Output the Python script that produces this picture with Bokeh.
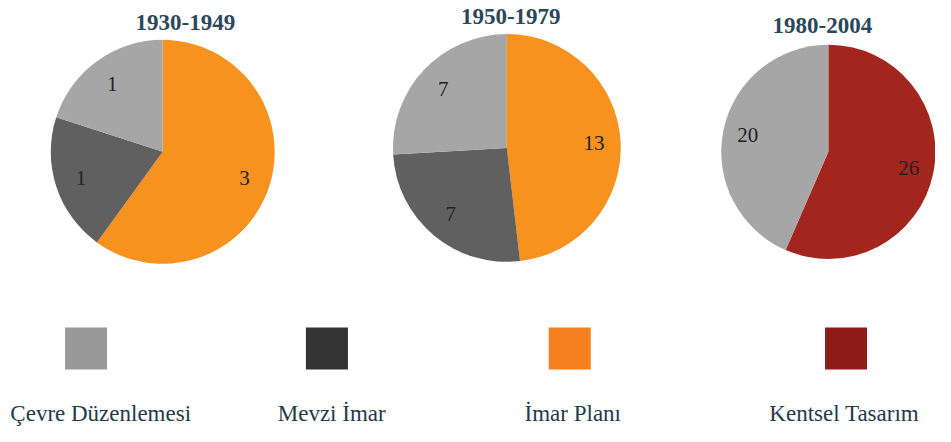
import math
from bokeh.plotting import figure
from bokeh.models import Range1d, ColumnDataSource
from bokeh.core.properties import value
from bokeh.embed import file_html
from bokeh.resources import INLINE

# ---------------- data ----------------
periods = ["1930-1949", "1950-1979", "1980-2004"]

# slices listed clockwise from 12 o'clock
pie1_cats = ["İmar Planı", "Mevzi İmar", "Çevre Düzenlemesi"]
pie1_vals = [3, 1, 1]
pie2_cats = ["İmar Planı", "Mevzi İmar", "Çevre Düzenlemesi"]
pie2_vals = [13, 7, 7]
pie3_cats = ["Kentsel Tasarım", "Çevre Düzenlemesi"]
pie3_vals = [26, 20]

legend_cats = ["Çevre Düzenlemesi", "Mevzi İmar", "İmar Planı", "Kentsel Tasarım"]

pie_colors = {
    "Çevre Düzenlemesi": "#a6a6a6",
    "Mevzi İmar": "#606060",
    "İmar Planı": "#f7921e",
    "Kentsel Tasarım": "#a3261e",
}
legend_colors = {
    "Çevre Düzenlemesi": "#999999",
    "Mevzi İmar": "#333333",
    "İmar Planı": "#f5821f",
    "Kentsel Tasarım": "#8e1b17",
}

# ---------------- layout ----------------
W, H = 935, 426
KX = W / 951.0
KY = H / 442.0
K = (KX + KY) / 2


def sx(X):
    return X * KX


def sy(Y):
    return H - Y * KY


pie_centers = [(165, 157), (515, 153), (842, 157)]
pie_radii = [115, 117, 110]
title_pos = [(188, 22.5), (519, 16.5), (836, 26)]
legend_sq_x = [87, 332, 579, 860]
legend_sq_y = 361
legend_txt_x = [10, 282, 533, 782]
legend_txt_y = 429

TITLE_COLOR = "#2b475a"
TEXT_COLOR = "#1f3a4b"
SERIF = "Liberation Serif"

p = figure(width=W, height=H, output_backend="svg", toolbar_location=None,
           x_range=Range1d(0, W), y_range=Range1d(0, H),
           min_border=0, min_border_left=0, min_border_right=0,
           min_border_top=0, min_border_bottom=0)
p.axis.visible = False
p.grid.visible = False
p.outline_line_color = None
p.background_fill_color = "white"
p.border_fill_color = "white"

pies = [(pie1_cats, pie1_vals), (pie2_cats, pie2_vals), (pie3_cats, pie3_vals)]

for (cats, vals), (cx, cy), R in zip(pies, pie_centers, pie_radii):
    total = float(sum(vals))
    starts, ends, colors, lx, ly, labels = [], [], [], [], [], []
    cum = 0.0
    for c, v in zip(cats, vals):
        a0 = cum / total * 2 * math.pi
        cum += v
        a1 = cum / total * 2 * math.pi
        # clockwise from top -> bokeh anticlockwise from +x
        starts.append(math.pi / 2 - a1)
        ends.append(math.pi / 2 - a0)
        colors.append(pie_colors[c])
        mid = (a0 + a1) / 2
        r = 0.76 * R
        lx.append(sx(cx + r * math.sin(mid)))
        ly.append(sy(cy - r * math.cos(mid)))
        labels.append(str(v))
    src = ColumnDataSource(dict(start=starts, end=ends, color=colors))
    p.wedge(x=sx(cx), y=sy(cy), radius=R * K, radius_units="screen",
            start_angle="start", end_angle="end", fill_color="color",
            line_color=None, source=src)
    lsrc = ColumnDataSource(dict(x=lx, y=ly, t=labels))
    p.text(x="x", y="y", text="t", source=lsrc, text_align="center",
           text_baseline="middle", text_font=value(SERIF),
           text_font_size="21px", text_color="#222222")

# titles
tsrc = ColumnDataSource(dict(x=[sx(t[0]) for t in title_pos],
                             y=[sy(t[1]) for t in title_pos], t=periods))
p.text(x="x", y="y", text="t", source=tsrc, text_align="center",
       text_baseline="middle", text_font=value(SERIF), text_font_style="bold",
       text_font_size="23px", text_color=TITLE_COLOR)

# legend
lg = ColumnDataSource(dict(x=[sx(v) for v in legend_sq_x],
                           y=[sy(legend_sq_y)] * len(legend_cats),
                           color=[legend_colors[c] for c in legend_cats]))
p.rect(x="x", y="y", width=42, height=42, width_units="screen",
       height_units="screen", fill_color="color", line_color=None, source=lg)
lt = ColumnDataSource(dict(x=[sx(v) for v in legend_txt_x],
                           y=[sy(legend_txt_y)] * len(legend_cats),
                           t=legend_cats))
p.text(x="x", y="y", text="t", source=lt, text_align="left",
       text_baseline="alphabetic", text_font=value(SERIF),
       text_font_size="23px", text_color=TEXT_COLOR)

open("out.html", "w").write(file_html(p, INLINE))
